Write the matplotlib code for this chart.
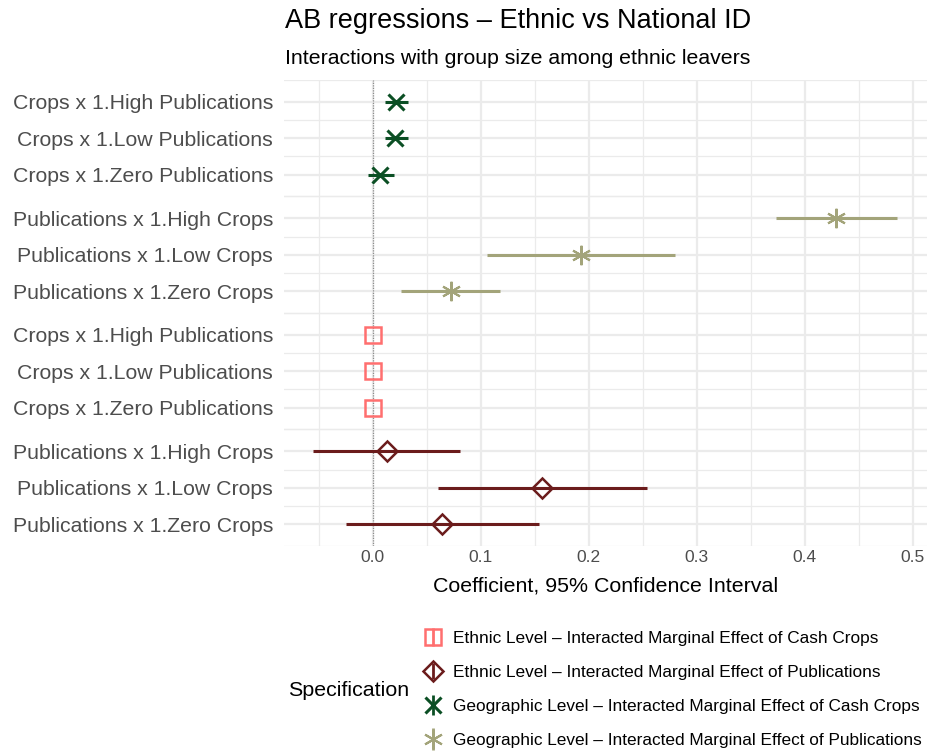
import matplotlib.pyplot as plt
from matplotlib.lines import Line2D

plt.rcParams['font.family'] = ['Liberation Sans', 'DejaVu Sans']

# Row labels (top to bottom within each panel)
crops_labels = ['Crops x 1.High Publications', 'Crops x 1.Low Publications', 'Crops x 1.Zero Publications']
pubs_labels = ['Publications x 1.High Crops', 'Publications x 1.Low Crops', 'Publications x 1.Zero Crops']

# Panels, top to bottom
spec_names = ['Geographic Level \u2013 Interacted Marginal Effect of Cash Crops',
              'Geographic Level \u2013 Interacted Marginal Effect of Publications',
              'Ethnic Level \u2013 Interacted Marginal Effect of Cash Crops',
              'Ethnic Level \u2013 Interacted Marginal Effect of Publications']
panel_labels = [crops_labels, pubs_labels, crops_labels, pubs_labels]

# Estimates and 95% CI
geo_crops_est = [0.0218, 0.021, 0.007]
geo_crops_lo = [0.0116, 0.011, -0.004]
geo_crops_hi = [0.0329, 0.033, 0.020]

geo_pubs_est = [0.429, 0.193, 0.0727]
geo_pubs_lo = [0.3736, 0.106, 0.026]
geo_pubs_hi = [0.4856, 0.280, 0.118]

eth_crops_est = [0.0003, 0.0003, 0.0003]
eth_crops_lo = [0.0001, 0.0001, 0.0001]
eth_crops_hi = [0.0005, 0.0005, 0.0005]

eth_pubs_est = [0.0134, 0.157, 0.0644]
eth_pubs_lo = [-0.055, 0.0606, -0.0245]
eth_pubs_hi = [0.081, 0.254, 0.154]

ests = [geo_crops_est, geo_pubs_est, eth_crops_est, eth_pubs_est]
los = [geo_crops_lo, geo_pubs_lo, eth_crops_lo, eth_pubs_lo]
his = [geo_crops_hi, geo_pubs_hi, eth_crops_hi, eth_pubs_hi]

colors = ['#0B4F24', '#A3A47A', '#FF6F6F', '#6B1C1C']
markers = ['x', (6, 2, 0), 's', 'D']
msizes = [12, 14, 11, 10]
mews = [2.2, 1.5, 1.8, 1.8]


def marker_kw(i):
    hollow = markers[i] in ('s', 'D')
    return dict(ls='', marker=markers[i], ms=msizes[i], mec=colors[i],
                mfc='none' if hollow else colors[i], mew=mews[i])


fig = plt.figure(figsize=(9.29, 7.51), dpi=100)
ax = fig.add_axes([284 / 929, 1 - 546 / 751, (927 - 284) / 929, (546 - 80) / 751])

gap = 3.2
ticks, ticklabels = [], []
for g in range(4):
    ys = [g * gap + r for r in range(3)]
    ticks += ys
    ticklabels += panel_labels[g]
    ax.hlines(ys, los[g], his[g], color=colors[g], lw=2.2, zorder=3)
    ax.plot(ests[g], ys, zorder=4, **marker_kw(g))
    # minor grid lines inside and around each panel
    for y in [g * gap - 0.6, g * gap + 0.5, g * gap + 1.5, g * gap + 2.6]:
        ax.axhline(y, color='#EBEBEB', lw=0.9, zorder=0)

for t in ticks:
    ax.axhline(t, color='#EBEBEB', lw=1.6, zorder=0)
for x in [0.0, 0.1, 0.2, 0.3, 0.4, 0.5]:
    ax.axvline(x, color='#EBEBEB', lw=1.6, zorder=0)
for x in [-0.05, 0.05, 0.15, 0.25, 0.35, 0.45]:
    ax.axvline(x, color='#EBEBEB', lw=0.9, zorder=0)

ax.axvline(0, color='#8C8C8C', lw=0.9, ls=(0, (1, 1)), zorder=1)

ax.set_xlim(-0.082, 0.513)
ax.set_ylim(3 * gap + 2 + 0.6, -0.6)
ax.set_yticks(ticks)
ax.set_yticklabels(ticklabels)
ax.set_xticks([0.0, 0.1, 0.2, 0.3, 0.4, 0.5])
ax.set_xticklabels(['0.0', '0.1', '0.2', '0.3', '0.4', '0.5'])
ax.tick_params(axis='y', length=0, pad=8, labelsize=15.3, labelcolor='#4D4D4D')
ax.tick_params(axis='x', length=0, pad=3, labelsize=12.5, labelcolor='#4D4D4D')
for s in ax.spines.values():
    s.set_visible(False)
ax.set_xlabel('Coefficient, 95% Confidence Interval', fontsize=15.4, labelpad=8.5)

fig.text(285 / 929, 1 - 21 / 751, 'AB regressions \u2013 Ethnic vs National ID', fontsize=19.5, va='center')
fig.text(285 / 929, 1 - 59 / 751, 'Interactions with group size among ethnic leavers', fontsize=15.3, va='center')

# legend (order as in reference)
order = [2, 3, 0, 1]
handles, labels = [], []
for i in order:
    vline = Line2D([], [], ls='', marker='|', ms=msizes[i] + 2, mew=2.0, color=colors[i])
    pt = Line2D([], [], **marker_kw(i))
    handles.append((vline, pt))
    labels.append(spec_names[i])
fig.legend(handles, labels, loc='upper left', bbox_to_anchor=(423 / 929, 1 - 631 / 751),
           frameon=False, fontsize=12.4, handlelength=1.2, handletextpad=0.55,
           labelspacing=1.1, borderaxespad=0, borderpad=0)
fig.text(288 / 929, 1 - 691 / 751, 'Specification', fontsize=15.4, va='center')

fig.savefig('out.png', dpi=100)
